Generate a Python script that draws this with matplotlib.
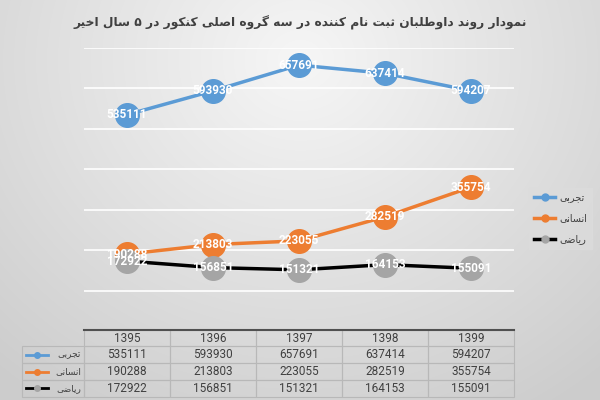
import matplotlib.pyplot as plt
import numpy as np
from matplotlib.lines import Line2D

years = ['1395', '1396', '1397', '1398', '1399']
series_names = ['تجربی', 'انسانی', 'ریاضی']
tajrobi = [535111, 593930, 657691, 637414, 594207]
ensani = [190288, 213803, 223055, 282519, 355754]
riazi = [172922, 156851, 151321, 164153, 155091]
title = 'نمودار روند داوطلبان ثبت نام کننده در سه گروه اصلی کنکور در ۵ سال اخیر'

# simple persian shaping (matplotlib has no bidi / joining)
forms = {
    'ا': ('\uFE8D', '\uFE8E', None, None), 'ب': ('\uFE8F', '\uFE90', '\uFE91', '\uFE92'),
    'ت': ('\uFE95', '\uFE96', '\uFE97', '\uFE98'), 'ث': ('\uFE99', '\uFE9A', '\uFE9B', '\uFE9C'),
    'ج': ('\uFE9D', '\uFE9E', '\uFE9F', '\uFEA0'), 'خ': ('\uFEA5', '\uFEA6', '\uFEA7', '\uFEA8'),
    'د': ('\uFEA9', '\uFEAA', None, None), 'ر': ('\uFEAD', '\uFEAE', None, None),
    'س': ('\uFEB1', '\uFEB2', '\uFEB3', '\uFEB4'), 'ص': ('\uFEB9', '\uFEBA', '\uFEBB', '\uFEBC'),
    'ض': ('\uFEBD', '\uFEBE', '\uFEBF', '\uFEC0'), 'ط': ('\uFEC1', '\uFEC2', '\uFEC3', '\uFEC4'),
    'ل': ('\uFEDD', '\uFEDE', '\uFEDF', '\uFEE0'), 'م': ('\uFEE1', '\uFEE2', '\uFEE3', '\uFEE4'),
    'ن': ('\uFEE5', '\uFEE6', '\uFEE7', '\uFEE8'), 'ه': ('\uFEE9', '\uFEEA', '\uFEEB', '\uFEEC'),
    'و': ('\uFEED', '\uFEEE', None, None), 'ک': ('\uFB8E', '\uFB8F', '\uFB90', '\uFB91'),
    'گ': ('\uFB92', '\uFB93', '\uFB94', '\uFB95'), 'ی': ('\uFEEF', '\uFEF0', '\uFEF3', '\uFEF4'),
}


def fa(s):
    out = []
    for i, c in enumerate(s):
        if c not in forms:
            out.append(c)
            continue
        prev = s[i - 1] if i > 0 else ''
        nxt = s[i + 1] if i + 1 < len(s) else ''
        join_prev = prev in forms and forms[prev][2] is not None
        join_next = nxt in forms and forms[c][2] is not None
        iso, fin, ini, med = forms[c]
        if join_prev and join_next:
            out.append(med)
        elif join_prev:
            out.append(fin)
        elif join_next:
            out.append(ini)
        else:
            out.append(iso)
    return ''.join(out)[::-1]


plt.rcParams['font.family'] = ['DejaVu Sans']
num_font = ['Roboto', 'DejaVu Sans']
fig = plt.figure(figsize=(6, 4), dpi=100)

# background gradient
bg = fig.add_axes([0, 0, 1, 1], zorder=-10)
yy, xx = np.mgrid[0:400, 0:600]
r = np.sqrt(((xx - 300) / 420.0) ** 2 + ((yy - 60) / 380.0) ** 2)
g = np.clip(0.965 - 0.15 * r, 0.8, 0.965)
bg.imshow(np.dstack([g, g, g]), aspect='auto', extent=[0, 1, 0, 1])
bg.axis('off')

ax = fig.add_axes([0.14, 0.1725, 0.7167, 0.7075])
ax.set_facecolor('none')
ax.set_xlim(-0.5, 4.5)
ax.set_ylim(0, 700000)
ax.set_yticks(range(100000, 700001, 100000))
ax.grid(axis='y', color='white', lw=1.2)
ax.set_axisbelow(True)
for sp in ax.spines.values():
    sp.set_visible(False)
ax.tick_params(left=False, bottom=False, labelleft=False, labelbottom=False)

x = np.arange(len(years))
styles = [(tajrobi, '#5B9BD5', '#5B9BD5'), (ensani, '#ED7D31', '#ED7D31'), (riazi, '#000000', '#A5A5A5')]
handles = []
for (vals, lc, mc), name in zip(styles, series_names):
    ax.plot(x, vals, color=lc, lw=2.5, zorder=2)
    ax.plot(x, vals, 'o', color=mc, ms=17, zorder=3)
    for xi, v in zip(x, vals):
        ax.text(xi, v, str(v), color='white', ha='center', va='center', fontsize=8.5,
                fontweight='bold', family=num_font, zorder=4)
    handles.append(Line2D([], [], color=lc, lw=2.5, marker='o', ms=5, mfc=mc, mec=mc))

leg = fig.legend(handles, [fa(n) for n in series_names], loc='upper left',
                 bbox_to_anchor=(0.882, 0.53), frameon=True, fontsize=7,
                 handlelength=2.2, handletextpad=0.4, labelspacing=1.1,
                 borderpad=0.5, borderaxespad=0, fancybox=False)
leg.get_frame().set_facecolor('#dcdcdc')
leg.get_frame().set_edgecolor('#dcdcdc')
for t in leg.get_texts():
    t.set_color('#404040')

fig.text(0.5, 0.942, fa(title), ha='center', va='center', fontsize=8.8,
         fontweight='bold', color='#404040')

# data table: first column holds the series names
tab = fig.add_axes([0.0367, 0.008, 0.82, 0.168])
tab.axis('off')
tab.set_xlim(0, 1)
tab.set_ylim(0, 1)
rows = [tajrobi, ensani, riazi]
cell_text = [[''] + years] + [[fa(n)] + [str(v) for v in r_] for n, r_ in zip(series_names, rows)]
first_w = 62 / 492
col_w = [first_w] + [(1 - first_w) / 5] * 5
table = tab.table(cellText=cell_text, colWidths=col_w, bbox=[0, 0, 1, 1], cellLoc='center')
table.auto_set_font_size(False)
for (ri, ci), cell in table.get_celld().items():
    cell.set_facecolor('none')
    cell.set_edgecolor('#b8b8b8')
    cell.set_linewidth(0.8)
    cell.get_text().set_fontsize(8.5)
    cell.get_text().set_family(num_font)
    cell.get_text().set_color('#404040')
    if ci == 0:
        cell.get_text().set_family('DejaVu Sans')
        cell.get_text().set_ha('right')
        cell.PAD = 0.05
        cell.get_text().set_fontsize(6.5)
        if ri == 0:
            cell.set_edgecolor('none')
for (_, lc, mc), ri in zip(styles, range(3)):
    yc = 1 - (ri + 1.5) / 4
    tab.add_line(Line2D([0.008, 0.03, 0.052], [yc, yc, yc], color=lc, lw=2, marker='o', ms=4,
                        mfc=mc, mec=mc, markevery=[1]))
tab.plot([first_w, 1], [1, 1], color='#505050', lw=1.5, clip_on=False)

fig.savefig('out.png', dpi=100)
